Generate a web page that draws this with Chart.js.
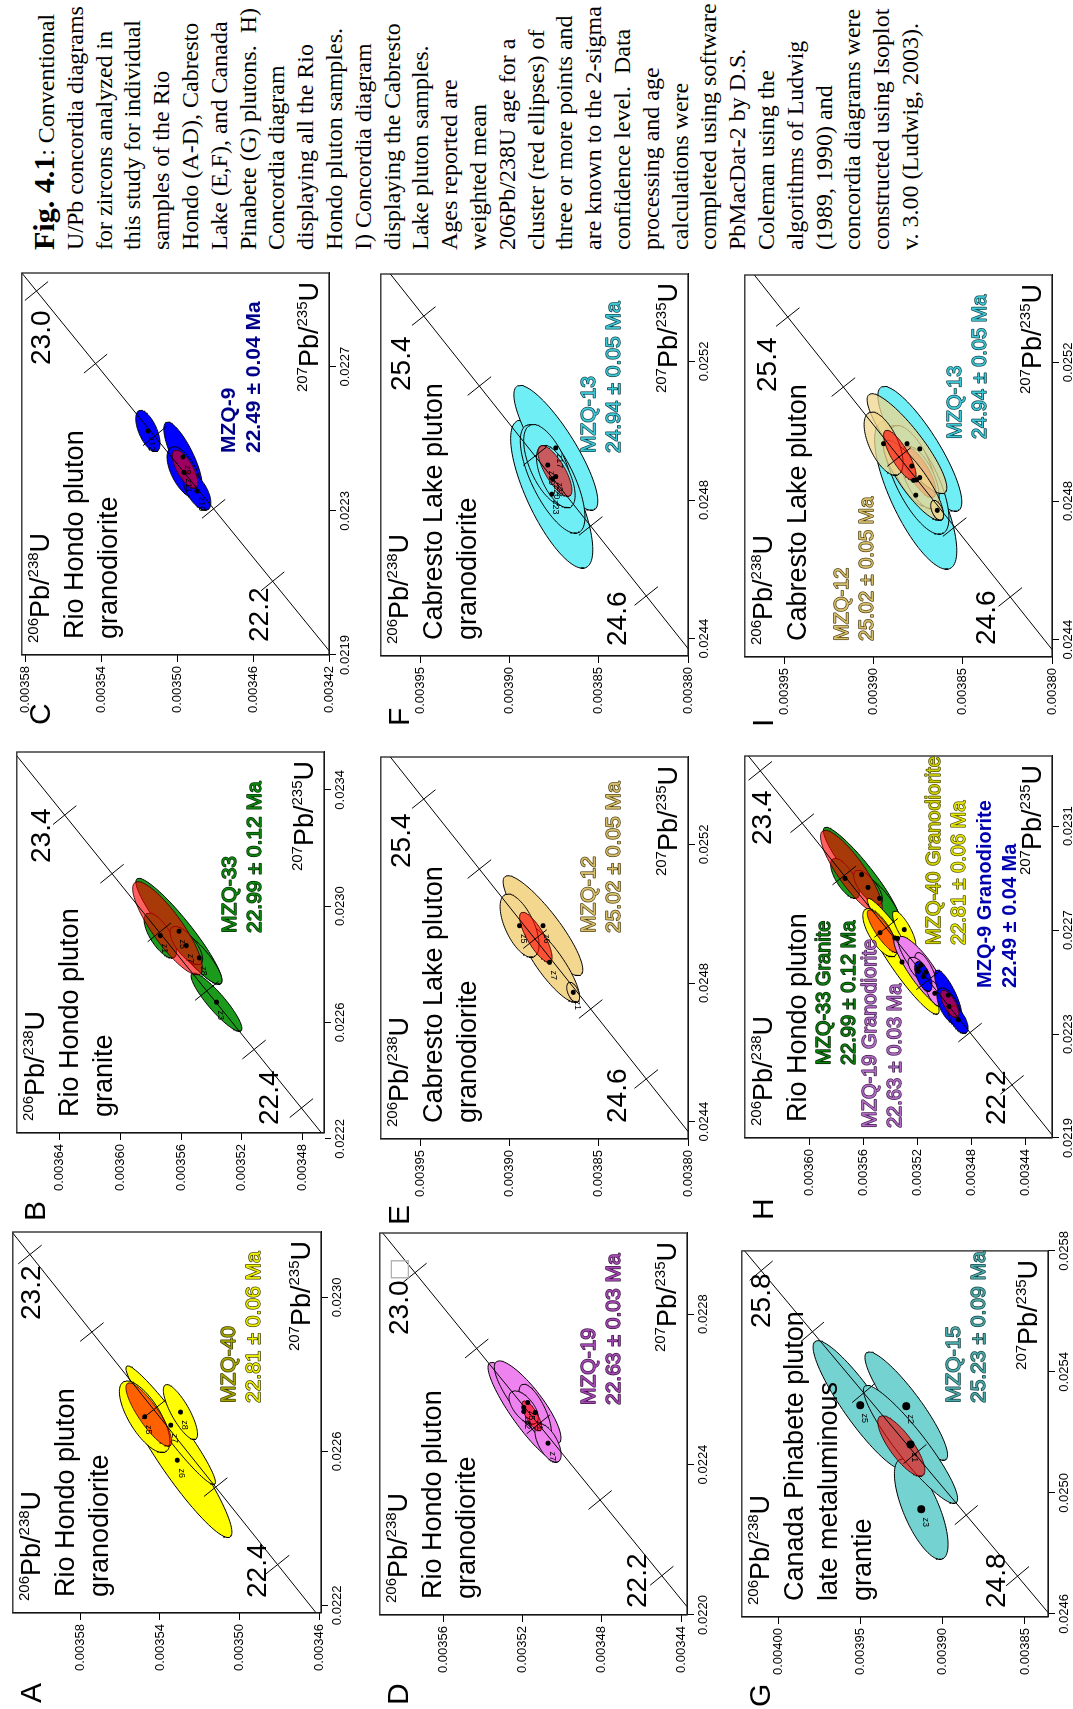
<!DOCTYPE html>
<html>
<head>
<meta charset="utf-8">
<title>Fig. 4.1 concordia diagrams</title>
<script src="https://cdn.jsdelivr.net/npm/chart.js@4.4.1/dist/chart.umd.min.js"></script>
<style>
html, body { margin:0; padding:0; background:#fff; overflow:hidden; width:1073px; height:1709px; }
#sheet { position:absolute; left:0; top:0; width:1709px; height:1073px; transform-origin:0 0; transform:translate(0px,1709px) rotate(-90deg); background:#fff; }
#sheet canvas { position:absolute; }
#caption { position:absolute; left:1459px; top:30px; font-family:"Liberation Serif", "Times New Roman", serif; font-size:24px; line-height:28.8px; white-space:nowrap; color:#000; }
#caption b { font-size:30px; line-height:28.8px; }
</style>
</head>
<body>
<div id="sheet">
<canvas id="pA"></canvas><canvas id="pB"></canvas><canvas id="pC"></canvas>
<canvas id="pD"></canvas><canvas id="pE"></canvas><canvas id="pF"></canvas>
<canvas id="pG"></canvas><canvas id="pH"></canvas><canvas id="pI"></canvas>
<div id="caption"><b>Fig. 4.1</b>: Conventional<br>U/Pb concordia diagrams<br>for zircons analyzed in<br>this study for individual<br>samples of the Rio<br>Hondo (A-D), Cabresto<br>Lake (E,F), and Canada<br>Pinabete (G) plutons.&nbsp; H)<br>Concordia diagram<br>displaying all the Rio<br>Hondo pluton samples.<br>I) Concordia diagram<br>displaying the Cabresto<br>Lake pluton samples.<br>Ages reported are<br>weighted mean<br>206Pb/238U age for a<br>cluster (red ellipses) of<br>three or more points and<br>are known to the 2-sigma<br>confidence level.&nbsp; Data<br>processing and age<br>calculations were<br>completed using software<br>PbMacDat-2 by D.S.<br>Coleman using the<br>algorithms of Ludwig<br>(1989, 1990) and<br>concordia diagrams were<br>constructed using Isoplot<br>v. 3.00 (Ludwig, 2003).</div>
</div>
<script>
// zircon analyses: [label, 207Pb/235U, 2s, 206Pb/238U, 2s, rho]
const mzq40 = [
  ['z6', 0.022577, 0.000201, 0.0035313, 0.0000275, 0.93],
  ['z7', 0.022668, 0.000154, 0.0035346, 0.0000225, 0.96],
  ['z5', 0.022690, 0.000093, 0.0035477, 0.0000127, 0.70],
  ['z8', 0.022702, 0.0000715, 0.0035297, 0.0000086, 0.80]
];
const mzq40Mean = [0.0226956, 0.0000823, 0.0035456, 0.0000115, 0.85];

const mzq33 = [
  ['z5', 0.0229136, 0.000182, 0.0035614, 0.0000283, 0.93],
  ['z3', 0.0226698, 0.0001002, 0.0035367, 0.0000167, 0.90],
  ['z8', 0.0228221, 0.0000904, 0.0035480, 0.0000149, 0.85],
  ['z1', 0.0228988, 0.0000773, 0.0035736, 0.0000107, 0.70],
  ['z7', 0.0228644, 0.0000658, 0.0035565, 0.0000107, 0.70]
];
const mzq33Mean = [0.0229239, 0.0001603, 0.0035689, 0.0000229, 0.85];

const mzq9 = [
  ['z12', 0.0225215, 0.0000575, 0.0035155, 0.0000064, 0.60],
  ['z9', 0.0224497, 0.0000967, 0.0034970, 0.0000101, 0.80],
  ['z11', 0.0224064, 0.0000714, 0.0034964, 0.0000090, 0.60],
  ['z10', 0.0223548, 0.0000529, 0.0034896, 0.0000073, 0.60]
];
const mzq9Mean = [0.0224156, 0.0000529, 0.0034959, 0.0000067, 0.70];

const mzq19 = [
  ['z2', 0.0225409, 0.0001306, 0.0035194, 0.0000180, 0.90],
  ['z5', 0.0225648, 0.0001107, 0.0035174, 0.0000168, 0.85],
  ['z1', 0.0225382, 0.0000753, 0.0035136, 0.0000082, 0.70],
  ['z7', 0.0224568, 0.0000509, 0.0035071, 0.0000066, 0.60],
  ['z6', 0.0225515, 0.0000443, 0.0035194, 0.0000074, 0.60]
];
const mzq19Mean = [0.0225293, 0.0000398, 0.0035153, 0.0000049, 0.75];

const mzq12 = [
  ['z6', 0.0249654, 0.0001442, 0.0038812, 0.0000223, 0.88],
  ['z7', 0.0248597, 0.0001154, 0.0038776, 0.0000168, 0.85],
  ['z5', 0.0249654, 0.0000913, 0.0038943, 0.0000109, 0.60],
  ['z1', 0.0247731, 0.0000288, 0.0038643, 0.0000036, 0.50]
];
const mzq12Mean = [0.0249318, 0.0000721, 0.0038852, 0.0000091, 0.80];

const mzq13 = [
  ['z23', 0.0248168, 0.0002136, 0.0038763, 0.0000230, 0.75],
  ['z17', 0.0249503, 0.0001802, 0.0038740, 0.0000235, 0.85],
  ['z20', 0.0248609, 0.0001568, 0.0038758, 0.0000181, 0.70],
  ['z19', 0.0249009, 0.0001168, 0.0038785, 0.0000135, 0.60],
  ['z22', 0.0248676, 0.0000901, 0.0038740, 0.0000108, 0.60]
];
const mzq13Mean = [0.0248836, 0.0000734, 0.0038745, 0.0000095, 0.75];

const mzq15 = [
  ['z5', 0.0252899, 0.0002134, 0.0039501, 0.0000286, 0.90],
  ['z2', 0.0252868, 0.0001792, 0.0039221, 0.0000251, 0.90],
  ['z3', 0.0249463, 0.0001660, 0.0039130, 0.0000163, 0.70],
  ['z1', 0.0251603, 0.0001950, 0.0039195, 0.0000286, 0.92]
];
const mzq15Mean = [0.0251550, 0.0001001, 0.0039251, 0.0000143, 0.80];

// axis ranges and tick labels
const xRangeA = [0.02218, 0.02317], yRangeA = [0.003459, 0.003614];
const xTicksA = [0.0222, 0.0226, 0.0230], yTicksA = [0.00346, 0.00350, 0.00354, 0.00358];
const xRangeB = [0.02222, 0.02353], yRangeB = [0.003466, 0.003668];
const xTicksB = [0.0222, 0.0226, 0.0230, 0.0234], yTicksB = [0.00348, 0.00352, 0.00356, 0.00360, 0.00364];
const xRangeC = [0.0219, 0.02296], yRangeC = [0.00342, 0.003582];
const xTicksC = [0.0219, 0.0223, 0.0227], yTicksC = [0.00342, 0.00346, 0.00350, 0.00354, 0.00358];
const xRangeD = [0.0220, 0.0230155], yRangeD = [0.003437, 0.003592];
const xTicksD = [0.0220, 0.0224, 0.0228], yTicksD = [0.00344, 0.00348, 0.00352, 0.00356];
const xRangeE = [0.02435, 0.025452], yRangeE = [0.0038, 0.003972];
const xTicksE = [0.0244, 0.0248, 0.0252], yTicksE = [0.00380, 0.00385, 0.00390, 0.00395];
const xRangeG = [0.02459, 0.02580], yRangeG = [0.003836, 0.004022];
const xTicksG = [0.0246, 0.0250, 0.0254, 0.0258], yTicksG = [0.00385, 0.00390, 0.00395, 0.00400];
const xRangeH = [0.0219, 0.02337], yRangeH = [0.00342, 0.003648];
const xTicksH = [0.0219, 0.0223, 0.0227, 0.0231], yTicksH = [0.00344, 0.00348, 0.00352, 0.00356, 0.00360];

// concordia age ticks (Ma)
const agesA = [22.4, 22.6, 22.8, 23.0, 23.2];
const agesB = [22.4, 22.6, 22.8, 23.0, 23.2, 23.4];
const agesC = [22.2, 22.4, 22.6, 22.8, 23.0];
const agesE = [24.6, 24.8, 25.0, 25.2, 25.4];
const agesG = [24.8, 25.0, 25.2, 25.4, 25.6, 25.8];
const agesH = [22.2, 22.4, 22.6, 22.8, 23.0, 23.2, 23.4];

const L238 = 1.55125e-10, L235 = 9.8485e-10;
function concX(t){ return Math.exp(L235 * t * 1e6) - 1; }
function concY(t){ return Math.exp(L238 * t * 1e6) - 1; }

const SANS = '"Liberation Sans", Arial, sans-serif';
const MEAN_FILL = 'rgba(255,0,0,0.62)';

function ellipsePts(e){
  var pts = [], s = Math.sqrt(1 - e[4] * e[4]);
  for (var k = 0; k <= 96; k++) {
    var t = 2 * Math.PI * k / 96;
    pts.push({x: e[0] + e[1] * Math.cos(t), y: e[2] + e[3] * (e[4] * Math.cos(t) + s * Math.sin(t))});
  }
  return pts;
}

function ellipseSet(e, fill, border){
  return {type:'line', data: ellipsePts(e), fill:'shape', backgroundColor: fill,
    borderColor: border, borderWidth: 1, pointRadius: 0, tension: 0};
}

function buildSets(p){
  var sets = [];
  p.groups.forEach(function(g){
    g.rows.forEach(function(r){ sets.push(ellipseSet(r.slice(1), g.fill, '#000')); });
    sets.push(ellipseSet(g.mean, MEAN_FILL, 'rgba(60,0,0,0.9)'));
  });
  p.groups.forEach(function(g){
    sets.push({type:'scatter', data: g.rows.map(function(r){ return {x: r[1], y: r[3]}; }),
      pointRadius: p.dot || 2.5, pointBackgroundColor:'#000', pointBorderWidth:0});
  });
  var a0 = p.ages[0] - 0.6, a1 = p.ages[p.ages.length - 1] + 0.6;
  var line = [a0].concat(p.ages, [a1]).map(function(t){ return {x: concX(t), y: concY(t)}; });
  sets.push({type:'line', data: line, fill:false, borderColor:'#000', borderWidth:1, pointRadius:0, tension:0});
  sets.forEach(function(s, i){ s.order = sets.length - i; });
  return sets;
}

function outlined(ctx, txt, x, y, fill, stroke){
  if (stroke) { ctx.lineJoin = 'round'; ctx.lineWidth = 1.4; ctx.strokeStyle = stroke; ctx.strokeText(txt, x, y); }
  ctx.fillStyle = fill; ctx.fillText(txt, x, y);
}

function ratio(ctx, x, y, a, b, right){
  var big = '27px ' + SANS, sm = '15px ' + SANS;
  var parts = [[a, sm, -11], ['Pb/', big, 0], [b, sm, -11], ['U', big, 0]];
  var w = 0;
  parts.forEach(function(q){ ctx.font = q[1]; w += ctx.measureText(q[0]).width; });
  var cx = right ? x - w : x;
  ctx.fillStyle = '#000';
  parts.forEach(function(q){ ctx.font = q[1]; ctx.fillText(q[0], cx, y + q[2]); cx += ctx.measureText(q[0]).width; });
}

function panelPlugin(p){
  return {
    id: 'iso' + p.letter,
    afterDatasetsDraw: function(chart){
      var ctx = chart.ctx, a = chart.chartArea, xs = chart.scales.x, ys = chart.scales.y;
      ctx.save();
      ctx.beginPath(); ctx.rect(a.left, a.top, a.right - a.left, a.bottom - a.top); ctx.clip();
      ctx.strokeStyle = '#000'; ctx.lineWidth = 1;
      p.ages.forEach(function(t){
        var px = xs.getPixelForValue(concX(t)), py = ys.getPixelForValue(concY(t));
        var qx = xs.getPixelForValue(concX(t + 0.1)), qy = ys.getPixelForValue(concY(t + 0.1));
        var d = Math.hypot(qx - px, qy - py), nx = -(qy - py) / d * 15, ny = (qx - px) / d * 15;
        ctx.beginPath(); ctx.moveTo(px - nx, py - ny); ctx.lineTo(px + nx, py + ny); ctx.stroke();
      });
      if (p.tags) {
        ctx.font = '9px ' + SANS; ctx.fillStyle = '#000'; ctx.textAlign = 'center'; ctx.textBaseline = 'middle';
        p.groups[0].rows.forEach(function(r){
          var px = xs.getPixelForValue(r[1]) - 13, py = ys.getPixelForValue(r[3]) + 4;
          ctx.save(); ctx.translate(px, py); ctx.rotate(Math.PI); ctx.fillText(r[0], 0, 0); ctx.restore();
        });
      }
      ctx.restore();
      ctx.save();
      ctx.strokeStyle = '#222'; ctx.lineWidth = 1.3;
      ctx.strokeRect(a.left, a.top, a.right - a.left, a.bottom - a.top);
      ctx.restore();
    },
    afterDraw: function(chart){
      var ctx = chart.ctx, a = chart.chartArea, L = a.left, T = a.top;
      ctx.save();
      ctx.textAlign = 'left'; ctx.textBaseline = 'alphabetic';
      ctx.font = '30px ' + SANS; ctx.fillStyle = '#000';
      ctx.fillText(p.letter, L + p.letterDx, T + 28);
      ratio(ctx, L + 12, T + 27, '206', '238', false);
      ratio(ctx, a.right - 9, a.bottom - 11, '207', '235', true);
      ctx.font = '27px ' + SANS; ctx.fillStyle = '#000';
      p.title.forEach(function(s, i){ ctx.fillText(s, L + 16, T + 61 + i * 34); });
      ctx.font = '28px ' + SANS;
      p.ageText.forEach(function(q){
        ctx.fillStyle = '#000'; ctx.fillText(q[0], L + q[1], T + q[2]);
        if (q[3]) {
          var w = ctx.measureText(q[0]).width;
          ctx.fillStyle = '#b0b0b0'; ctx.font = '24px "DejaVu Sans"'; ctx.fillText(q[3], L + q[1] + w, T + q[2] - 2);
          ctx.font = '28px ' + SANS;
        }
      });
      p.samples.forEach(function(sm){
        ctx.font = (sm.bold ? 'bold ' : '') + (sm.size || 21) + 'px ' + SANS;
        sm.lines.forEach(function(s, i){ outlined(ctx, s, L + sm.x, T + sm.y + i * 25, sm.fills[i], sm.stroke); });
      });
      ctx.restore();
    }
  };
}

function makeChart(p){
  var cv = document.getElementById(p.id);
  var W = p.frame[2] + 100, H = p.frame[3] + 40;
  cv.width = W; cv.height = H;
  cv.style.width = W + 'px'; cv.style.height = H + 'px';
  cv.style.left = (p.frame[0] - 96) + 'px'; cv.style.top = (p.frame[1] - 4) + 'px';
  var tickFont = {family: SANS, size: 13};
  new Chart(cv, {
    type: 'scatter',
    data: {datasets: buildSets(p)},
    options: {
      responsive: false, animation: false, devicePixelRatio: 1, events: [],
      layout: {padding: {left: 0, top: 4, right: 4, bottom: 0}},
      plugins: {legend: {display: false}, tooltip: {enabled: false}},
      scales: {
        x: {type: 'linear', min: p.xr[0], max: p.xr[1],
          afterBuildTicks: function(ax){ ax.ticks = p.xt.map(function(v){ return {value: v}; }); },
          afterFit: function(s){ s.height = 36; },
          grid: {drawOnChartArea: false, drawTicks: true, tickLength: 7, color: '#000', lineWidth: 1},
          border: {display: true, color: '#000', width: 1},
          ticks: {font: tickFont, color: '#000', maxRotation: 0, autoSkip: false, padding: 2,
            callback: function(v){ return v.toFixed(4); }}},
        y: {type: 'linear', min: p.yr[0], max: p.yr[1],
          afterBuildTicks: function(ax){ ax.ticks = p.yt.map(function(v){ return {value: v}; }); },
          afterFit: function(s){ s.width = 96; },
          grid: {drawOnChartArea: false, drawTicks: true, tickLength: 7, color: '#000', lineWidth: 1},
          border: {display: true, color: '#000', width: 1},
          ticks: {font: tickFont, color: '#000', autoSkip: false, padding: 4,
            callback: function(v){ return v.toFixed(5); }}}
      }
    },
    plugins: [panelPlugin(p)]
  });
}

var rio = ['Rio Hondo pluton', 'granodiorite'];
var cab = ['Cabresto Lake pluton', 'granodiorite'];
var panels = [
  {id:'pA', letter:'A', letterDx:-90, frame:[96,5,381,316], xr:xRangeA, yr:yRangeA, xt:xTicksA, yt:yTicksA, ages:agesA,
   groups:[{rows:mzq40, mean:mzq40Mean, fill:'#ffff00'}], title:rio, tags:true,
   ageText:[['22.4',15,253],['23.2',293,27]],
   samples:[{lines:['MZQ-40','22.81 ± 0.06 Ma'], x:210, y:222, fills:['#a3a300','#f0f000'], stroke:'#3a3a00'}]},
  {id:'pB', letter:'B', letterDx:-88, frame:[576,9,381,315], xr:xRangeB, yr:yRangeB, xt:xTicksB, yt:yTicksB, ages:agesB,
   groups:[{rows:mzq33, mean:mzq33Mean, fill:'#1c9a1c'}], title:['Rio Hondo pluton','granite'], tags:true,
   ageText:[['22.4',8,261],['23.4',270,33]],
   samples:[{lines:['MZQ-33','22.99 ± 0.12 Ma'], x:200, y:219, fills:['#0b870b','#0b870b'], stroke:'#042a04'}]},
  {id:'pC', letter:'C', letterDx:-70, frame:[1054,14,382,315], xr:xRangeC, yr:yRangeC, xt:xTicksC, yt:yTicksC, ages:agesC,
   groups:[{rows:mzq9, mean:mzq9Mean, fill:'#0000ff'}], title:rio, tags:true,
   ageText:[['22.2',13,246],['23.0',290,28]],
   samples:[{lines:['MZQ-9','22.49 ± 0.04 Ma'], x:202, y:213, fills:['#00008b','#00008b'], stroke:null, bold:true}]},
  {id:'pD', letter:'D', letterDx:-90, frame:[94,372,382,315], xr:xRangeD, yr:yRangeD, xt:xTicksD, yt:yTicksD, ages:agesC,
   groups:[{rows:mzq19, mean:mzq19Mean, fill:'#ee82ee'}], title:rio, tags:true,
   ageText:[['22.2',7,266],['23.0',280,28,'\u25A1']],
   samples:[{lines:['MZQ-19','22.63 ± 0.03 Ma'], x:210, y:215, fills:['#a448b4','#a448b4'], stroke:'#3a103f'}]},
  {id:'pE', letter:'E', letterDx:-86, frame:[570,373,382,315], xr:xRangeE, yr:yRangeE, xt:xTicksE, yt:yTicksE, ages:agesE,
   groups:[{rows:mzq12, mean:mzq12Mean, fill:'#f4d78e'}], title:cab, tags:true,
   ageText:[['24.6',16,245],['25.4',271,29]],
   samples:[{lines:['MZQ-12','25.02 ± 0.05 Ma'], x:206, y:214, fills:['#d8bf6a','#d8bf6a'], stroke:'#4a3c12'}]},
  {id:'pF', letter:'F', letterDx:-70, frame:[1053,373,382,315], xr:xRangeE, yr:yRangeE, xt:xTicksE, yt:yTicksE, ages:agesE,
   groups:[{rows:mzq13, mean:mzq13Mean, fill:'#70eef6'}], title:cab, tags:true,
   ageText:[['24.6',10,245],['25.4',265,29]],
   samples:[{lines:['MZQ-13','24.94 ± 0.05 Ma'], x:203, y:214, fills:['#3cc8d6','#3cc8d6'], stroke:'#0d3c42'}]},
  {id:'pG', letter:'G', letterDx:-90, frame:[92,734,384,314], xr:xRangeG, yr:yRangeG, xt:xTicksG, yt:yTicksG, ages:agesG, dot:4,
   groups:[{rows:mzq15, mean:mzq15Mean, fill:'#74d3d1'}], title:['Canada Pinabete pluton','late metaluminous','grantie'], tags:true,
   ageText:[['24.8',9,263],['25.8',289,28]],
   samples:[{lines:['MZQ-15','25.23 ± 0.09 Ma'], x:214, y:218, fills:['#4aa8a8','#4aa8a8'], stroke:'#123b3b'}]},
  {id:'pH', letter:'H', letterDx:-82, frame:[571,737,382,315], xr:xRangeH, yr:yRangeH, xt:xTicksH, yt:yTicksH, ages:agesH,
   groups:[{rows:mzq33, mean:mzq33Mean, fill:'#1c9a1c'}, {rows:mzq40, mean:mzq40Mean, fill:'#ffff00'},
           {rows:mzq19, mean:mzq19Mean, fill:'#ee82ee'}, {rows:mzq9, mean:mzq9Mean, fill:'#0000ff'}],
   title:['Rio Hondo pluton'], tags:false,
   ageText:[['22.2',13,260],['23.4',293,26]],
   samples:[{lines:['MZQ-33 Granite','22.99 ± 0.12 Ma'], x:73, y:85, size:20, fills:['#0b7d0b','#0b7d0b'], stroke:'#042004'},
            {lines:['MZQ-19 Granodiorite','22.63 ± 0.03 Ma'], x:10, y:131, size:20, fills:['#b06cc4','#b06cc4'], stroke:'#3a1444'},
            {lines:['MZQ-40 Granodiorite','22.81 ± 0.06 Ma'], x:193, y:195, size:20, fills:['#cfcf00','#e8e800'], stroke:'#4a4a00'},
            {lines:['MZQ-9 Granodiorite','22.49 ± 0.04 Ma'], x:150, y:246, size:20, fills:['#0000b0','#0000b0'], stroke:null, bold:true}]},
  {id:'pI', letter:'I', letterDx:-70, frame:[1052,737,382,315], xr:xRangeE, yr:yRangeE, xt:xTicksE, yt:yTicksE, ages:agesE,
   groups:[{rows:mzq13, mean:mzq13Mean, fill:'#70eef6'}, {rows:mzq12, mean:mzq12Mean, fill:'rgba(240,214,140,0.75)'}],
   title:['Cabresto Lake pluton'], tags:false,
   ageText:[['24.6',12,250],['25.4',265,31]],
   samples:[{lines:['MZQ-12','25.02 ± 0.05 Ma'], x:16, y:103, size:20, fills:['#d8bf6a','#d8bf6a'], stroke:'#4a3c12'},
            {lines:['MZQ-13','24.94 ± 0.05 Ma'], x:218, y:216, size:20, fills:['#3cc8d6','#3cc8d6'], stroke:'#0d3c42'}]}
];

panels.forEach(makeChart);
</script>
</body>
</html>
